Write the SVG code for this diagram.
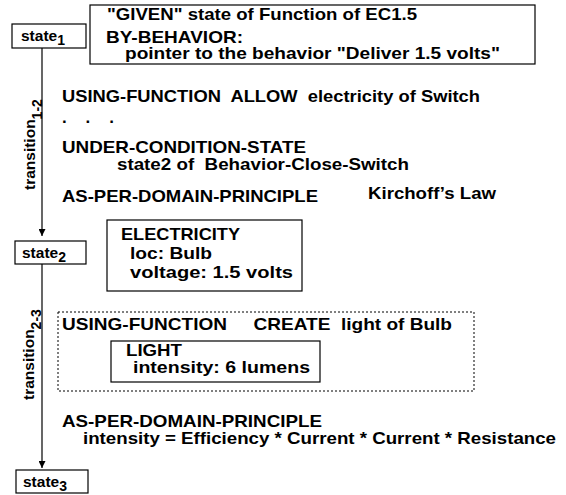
<svg xmlns="http://www.w3.org/2000/svg" width="566" height="495" viewBox="0 0 566 495" xml:space="preserve">
<style>
text{font-family:"Liberation Sans",Arial,sans-serif;font-weight:bold;fill:#000;white-space:pre}
.t{font-size:17px}
.s{font-size:15.5px}
.sub{font-size:14px}
.box{fill:#fff;stroke:#000;stroke-width:1.2}
.dot{fill:none;stroke:#000;stroke-width:1;stroke-dasharray:2,2}
.edge{fill:none;stroke:#000;stroke-width:1.2}
</style>
<defs>
<marker id="arr" viewBox="0 0 10 10" refX="10" refY="5" markerWidth="10" markerHeight="7" markerUnits="userSpaceOnUse" orient="auto">
<path d="M0,0 L10,5 L0,10 z" fill="#000"/>
</marker>
</defs>
<rect width="566" height="495" fill="#fff"/>
<g id="connectors">
<line class="edge" x1="42" y1="48" x2="42" y2="236" marker-end="url(#arr)"/>
<line class="edge" x1="42" y1="264" x2="42" y2="468" marker-end="url(#arr)"/>
<text class="s" transform="translate(35,190) rotate(-90)">transition<tspan class="sub" dy="6.5">1-2</tspan></text>
<text class="s" transform="translate(34,400) rotate(-90)">transition<tspan class="sub" dy="6.5">2-3</tspan></text>
</g>
<g id="state1">
<rect class="box" x="12" y="24" width="74" height="24"/>
<text class="s" x="21" y="41">state<tspan class="sub" dy="4">1</tspan></text>
</g>
<g id="given">
<rect class="box" x="90" y="5" width="445" height="59"/>
<text class="t" x="107" y="20" textLength="310" lengthAdjust="spacingAndGlyphs">"GIVEN" state of Function of EC1.5</text>
<text class="t" x="106" y="43" textLength="137" lengthAdjust="spacingAndGlyphs">BY-BEHAVIOR:</text>
<text class="t" x="125" y="59" textLength="375" lengthAdjust="spacingAndGlyphs">pointer to the behavior "Deliver 1.5 volts"</text>
</g>
<g id="transition12-text">
<text class="t" x="62" y="102" textLength="418" lengthAdjust="spacingAndGlyphs">USING-FUNCTION  ALLOW  electricity of Switch</text>
<text class="t" x="62" y="123">.    .    .</text>
<text class="t" x="62" y="153" textLength="244" lengthAdjust="spacingAndGlyphs">UNDER-CONDITION-STATE</text>
<text class="t" x="117" y="170" textLength="292" lengthAdjust="spacingAndGlyphs">state2 of  Behavior-Close-Switch</text>
<text class="t" x="62" y="202" textLength="256" lengthAdjust="spacingAndGlyphs">AS-PER-DOMAIN-PRINCIPLE</text>
<text class="t" x="368" y="199" textLength="128" lengthAdjust="spacingAndGlyphs">Kirchoff’s Law</text>
</g>
<g id="state2">
<rect class="box" x="15" y="241" width="71" height="23"/>
<text class="s" x="22" y="258">state<tspan class="sub" dy="4">2</tspan></text>
</g>
<g id="electricity">
<rect class="box" x="107" y="220" width="195" height="71"/>
<text class="t" x="121" y="240" textLength="119" lengthAdjust="spacingAndGlyphs">ELECTRICITY</text>
<text class="t" x="130" y="259" textLength="82" lengthAdjust="spacingAndGlyphs">loc: Bulb</text>
<text class="t" x="130" y="278" textLength="163" lengthAdjust="spacingAndGlyphs">voltage: 1.5 volts</text>
</g>
<g id="create">
<rect class="dot" x="58" y="312" width="416" height="79"/>
<text class="t" x="62" y="330" textLength="390" lengthAdjust="spacingAndGlyphs">USING-FUNCTION     CREATE  light of Bulb</text>
</g>
<g id="light">
<rect class="box" x="111" y="341" width="209" height="41"/>
<text class="t" x="126" y="356" textLength="56" lengthAdjust="spacingAndGlyphs">LIGHT</text>
<text class="t" x="133" y="373" textLength="177" lengthAdjust="spacingAndGlyphs">intensity: 6 lumens</text>
</g>
<g id="principle2">
<text class="t" x="62" y="427" textLength="260" lengthAdjust="spacingAndGlyphs">AS-PER-DOMAIN-PRINCIPLE</text>
<text class="t" x="83" y="444" textLength="473" lengthAdjust="spacingAndGlyphs">intensity = Efficiency * Current * Current * Resistance</text>
</g>
<g id="state3">
<rect class="box" x="16" y="470" width="72" height="23"/>
<text class="s" x="23" y="487">state<tspan class="sub" dy="4">3</tspan></text>
</g>
</svg>
